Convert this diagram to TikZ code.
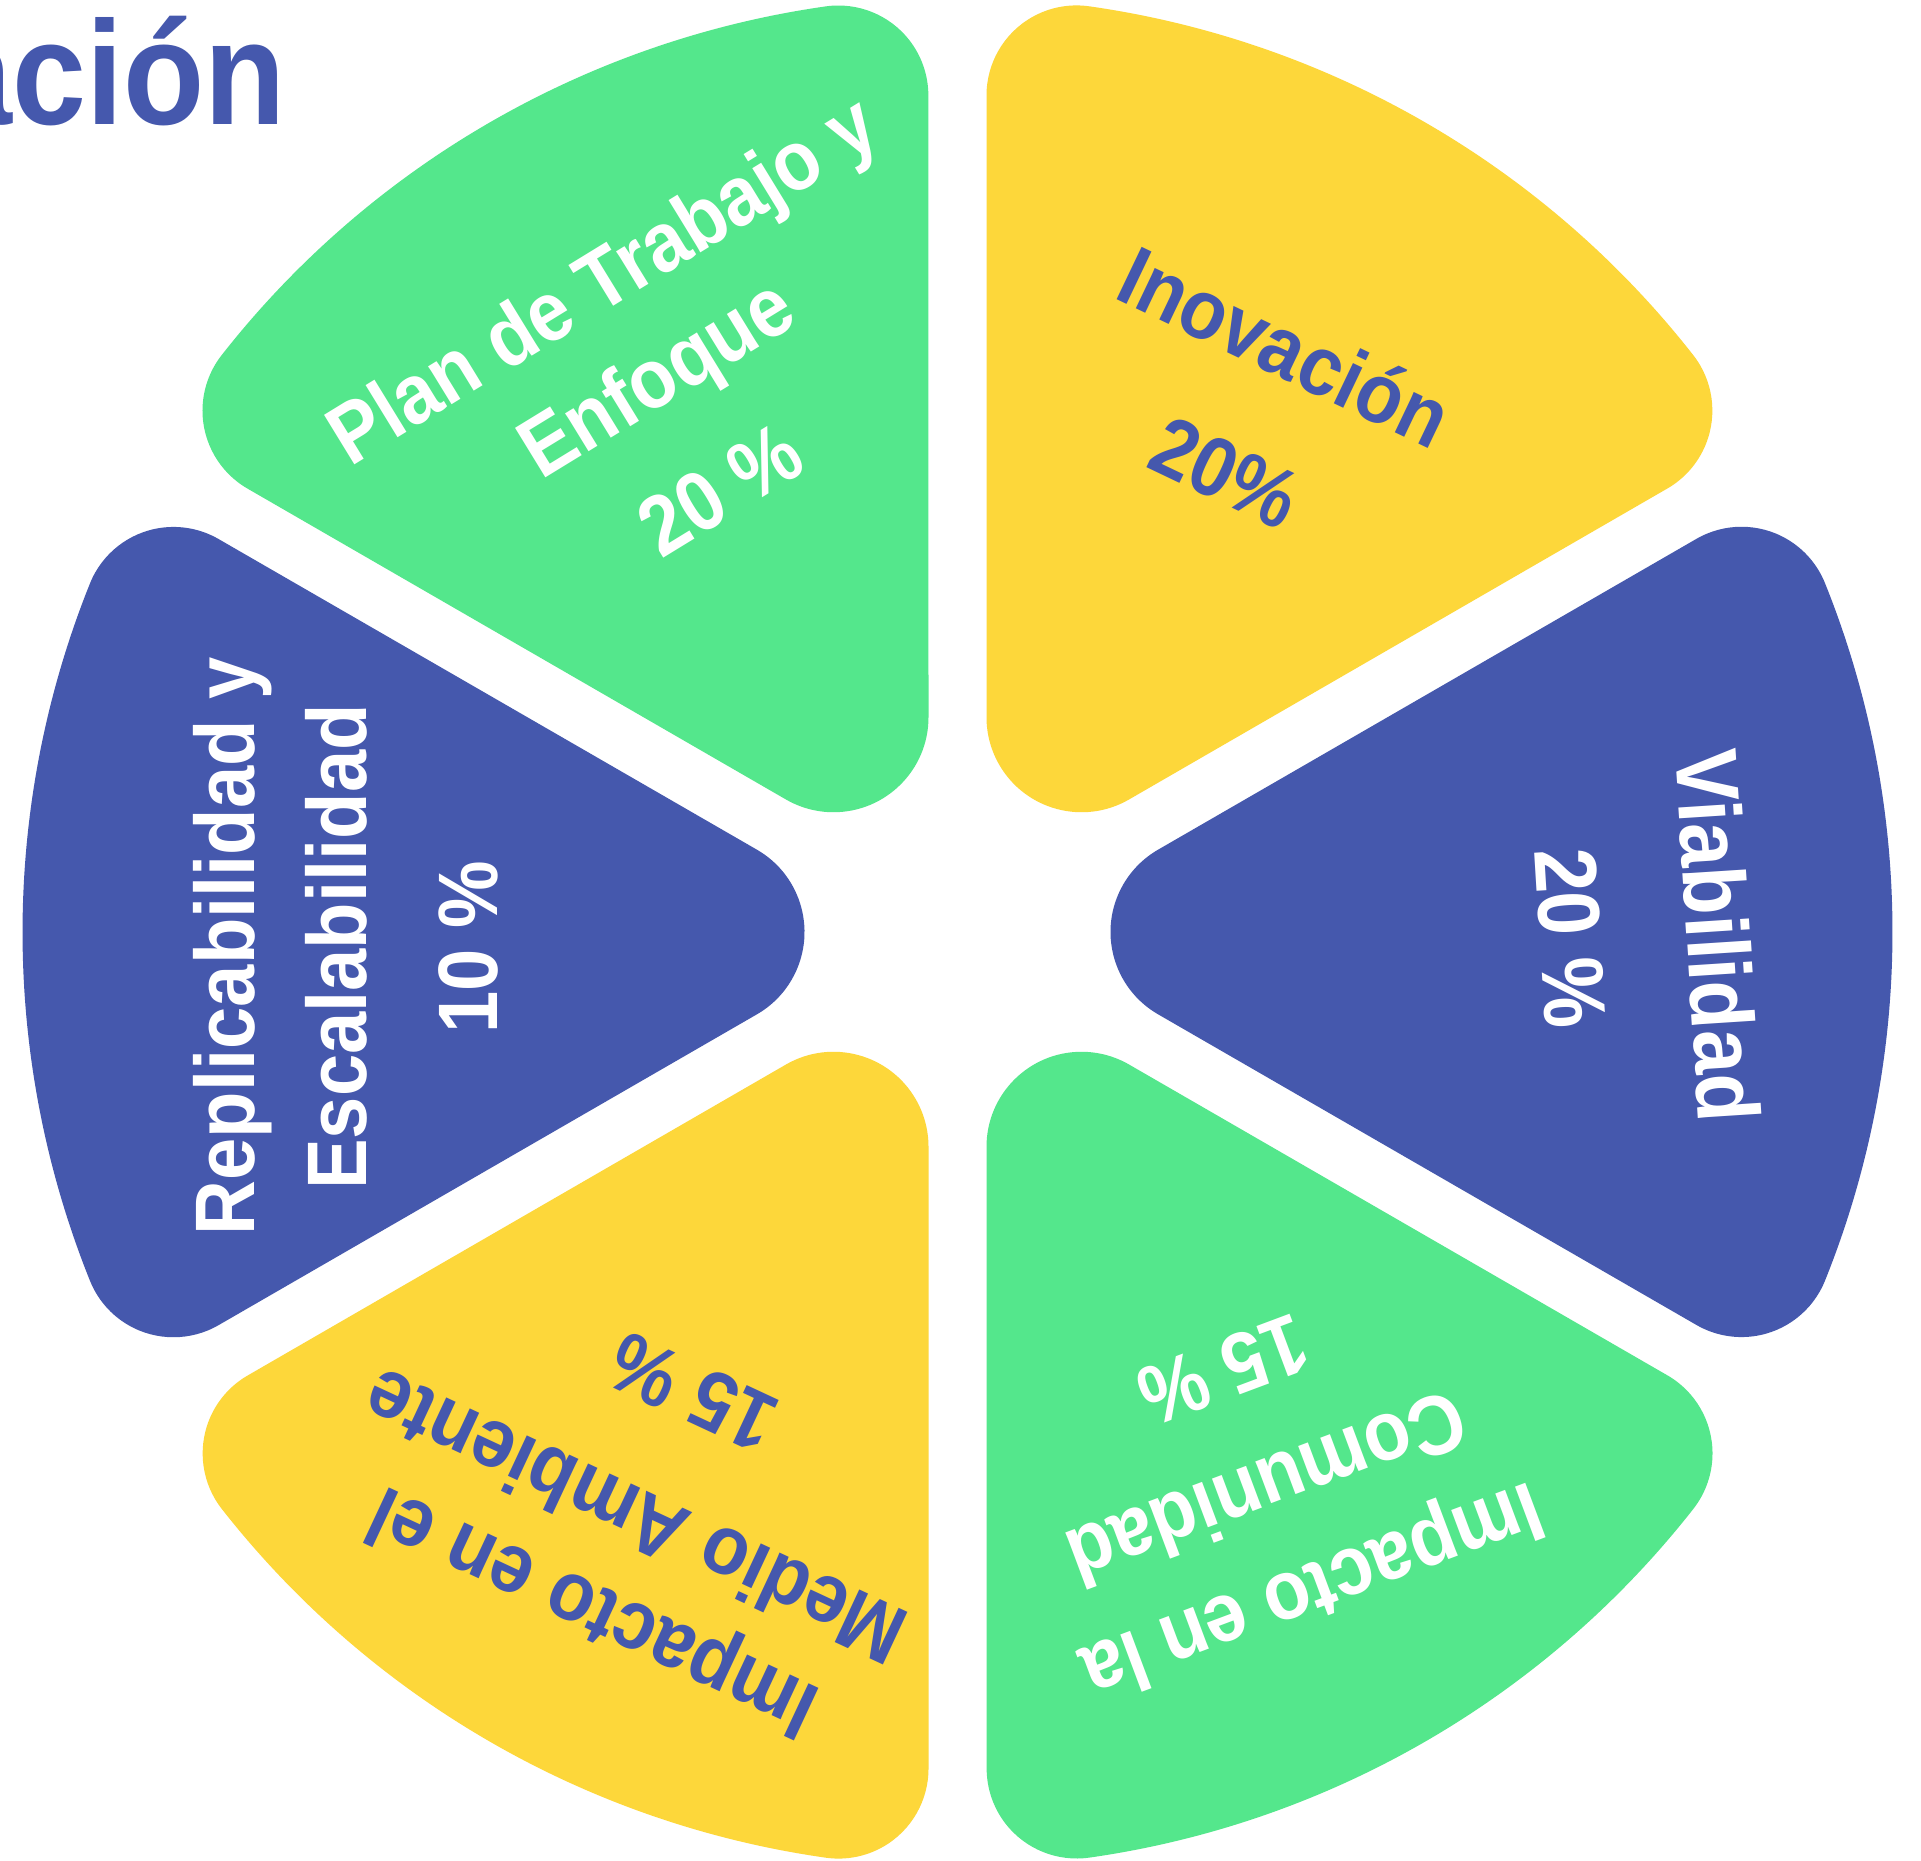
\documentclass[tikz,border=0pt]{standalone}
\usepackage{fontspec}
\newfontfamily\lbl[FakeStretch=0.9]{Liberation Sans}
\definecolor{pgreen}{RGB}{84,231,140}
\definecolor{pyellow}{RGB}{253,215,58}
\definecolor{pblue}{RGB}{69,88,173}
\tikzset{
  petal/.pic={
    \fill[pic actions] (739.0,393.18)
      arc[start angle=120,end angle=21.90,radius=90]
      arc[start angle=21.90,end angle=-21.90,radius=935]
      arc[start angle=-21.90,end angle=-120,radius=90]
      -- (200.5,-82.27)
      arc[start angle=240,end angle=120,radius=95]
      -- cycle;
  },
  lab/.style={font=\lbl\bfseries\fontsize{24}{29}\selectfont, inner sep=0pt, anchor=base},
  onwhite/.style={lab, text=white},
  onblue/.style={lab, text=pblue},
  big/.style={font=\lbl\bfseries\fontsize{25}{30}\selectfont},
}
\begin{document}
\begin{tikzpicture}[x=0.01cm, y=-0.01cm]
\useasboundingbox (0,0) rectangle (1921,1861);
\fill[white] (0,0) rectangle (1921,1861);
% petals
\begin{scope}[shift={(957.5,932)}, y=0.01cm]
  \pic[fill=pyellow, rotate=60] at (0,0) {petal};
  \pic[fill=pgreen, rotate=120] at (0,0) {petal};
  \pic[fill=pblue, rotate=180] at (0,0) {petal};
  \pic[fill=pyellow, rotate=240] at (0,0) {petal};
  \pic[fill=pgreen, rotate=300] at (0,0) {petal};
  \pic[fill=pblue, rotate=0] at (0,0) {petal};
\end{scope}
% title
\node[font=\lbl\bfseries\fontsize{42}{50}\selectfont, text=pblue, inner sep=0pt, anchor=base west] (title) at (-62,125) {ación};
% top-left green
\node[onwhite, rotate=31.5] (tl1) at (617,304) {Plan de Trabajo y};
\node[onwhite, rotate=31.5] (tl2) at (671,401.5) {Enfoque};
\node[onwhite, rotate=31.5] (tl3) at (735,514) {20 \%};
% top-right yellow
\node[onblue, rotate=-25.5] (tr1) at (1272,374) {Inovación};
\node[onblue, rotate=-25.5] (tr2) at (1213,499) {20\%};
% right blue
\node[onwhite, big, rotate=-86.3] (r1) at (1687,937.5) {Viabilidad};
\node[onwhite, big, rotate=-86.5] (r2) at (1540,940) {20 \%};
% left blue
\node[onwhite, rotate=90] (l1) at (254,946) {Replicabilidad y};
\node[onwhite, rotate=90] (l2) at (366,947) {Escalabilidad};
\node[onwhite, rotate=90] (l3) at (497,947) {10 \%};
% bottom-left yellow
\node[onblue, rotate=155] (bl1) at (604,1588) {Impacto en el};
\node[onblue, rotate=155] (bl2) at (647,1491) {Medio Ambiente};
\node[onblue, rotate=155] (bl3) at (705,1366) {15 \%};
% bottom-right green
\node[onwhite, rotate=200.5] (br1) at (1303,1566.5) {Impacto en la};
\node[onwhite, rotate=200.5] (br2) at (1257,1462) {Comunidad};
\node[onwhite, rotate=200.5] (br3) at (1213,1343) {15 \%};
\end{tikzpicture}
\end{document}
